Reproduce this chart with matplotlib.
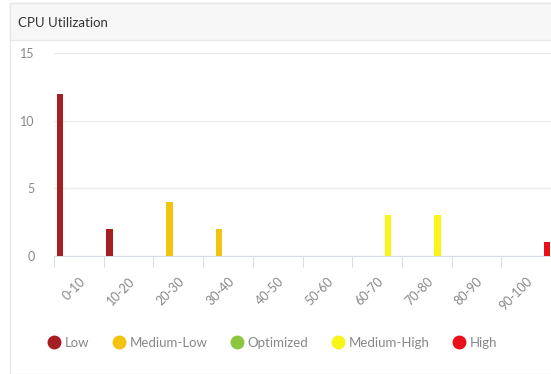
import matplotlib.pyplot as plt
from matplotlib.patches import Rectangle
from matplotlib.lines import Line2D
import numpy as np

plt.rcParams['font.family'] = ['Lato', 'DejaVu Sans']

categories = ['0-10', '10-20', '20-30', '30-40', '40-50',
              '50-60', '60-70', '70-80', '80-90', '90-100']
series = ['Low', 'Medium-Low', 'Optimized', 'Medium-High', 'High']
colors = ['#a61e22', '#f2c40f', '#8cc63e', '#f8f517', '#e8101a']
counts = {
    'Low':         [12, 2, 0, 0, 0, 0, 0, 0, 0, 0],
    'Medium-Low':  [0, 0, 4, 2, 0, 0, 0, 0, 0, 0],
    'Optimized':   [0, 0, 0, 0, 0, 0, 0, 0, 0, 0],
    'Medium-High': [0, 0, 0, 0, 0, 0, 3, 3, 0, 0],
    'High':        [0, 0, 0, 0, 0, 0, 0, 0, 0, 1],
}

W, H = 551, 374
fig = plt.figure(figsize=(W / 100, H / 100), dpi=100)

# card frame and header strip
fig.patches.append(Rectangle((10 / W, 0), 1, (H - 3) / H, transform=fig.transFigure,
                             facecolor='white', edgecolor='#e8e8e8', lw=1, zorder=-2))
fig.patches.append(Rectangle((10 / W, (H - 40) / H), 1, 37 / H, transform=fig.transFigure,
                             facecolor='#f7f7f7', edgecolor='#e8e8e8', lw=1, zorder=-1))
fig.text(18 / W, (H - 23) / H, 'CPU Utilization', fontsize=9.5, color='#333333',
         va='center', ha='left')

ax = fig.add_axes([54 / W, (H - 256) / H, (W - 54) / W, 203 / H])
ax.set_facecolor('none')

x = np.arange(len(categories))
bw = 0.13
for k, (name, c) in enumerate(zip(series, colors)):
    ax.bar(x + 0.12 + 0.2 * k, counts[name], width=bw, color=c, zorder=3)

ax.set_xlim(0, len(categories))
ax.set_ylim(0, 15)
ax.set_yticks([0, 5, 10, 15])
ax.yaxis.grid(True, color='#ececec', lw=1)
ax.set_axisbelow(True)
for s in ['top', 'right', 'left']:
    ax.spines[s].set_visible(False)
ax.spines['bottom'].set_color('#d8dde6')
ax.tick_params(axis='y', length=0, pad=14, labelsize=9, labelcolor='#888888')

ax.set_xticks(np.arange(len(categories) + 1))
ax.set_xticklabels([])
ax.tick_params(axis='x', which='major', length=8, color='#d8dde6')
ax.set_xticks(x + 0.5, minor=True)
ax.set_xticklabels(categories, minor=True, rotation=45, ha='right',
                   rotation_mode='anchor', fontsize=9, color='#888888')
ax.tick_params(axis='x', which='minor', length=0, pad=14)

handles = [Line2D([], [], marker='o', ls='none', markersize=9, color=c) for c in colors]
fig.legend(handles, series, loc='center', bbox_to_anchor=(273 / W, (H - 343) / H),
           ncol=5, frameon=False, fontsize=9.5, labelcolor='#888888',
           handlelength=0.8, handletextpad=0.45, columnspacing=1.8)

fig.savefig('out.png', dpi=100)
